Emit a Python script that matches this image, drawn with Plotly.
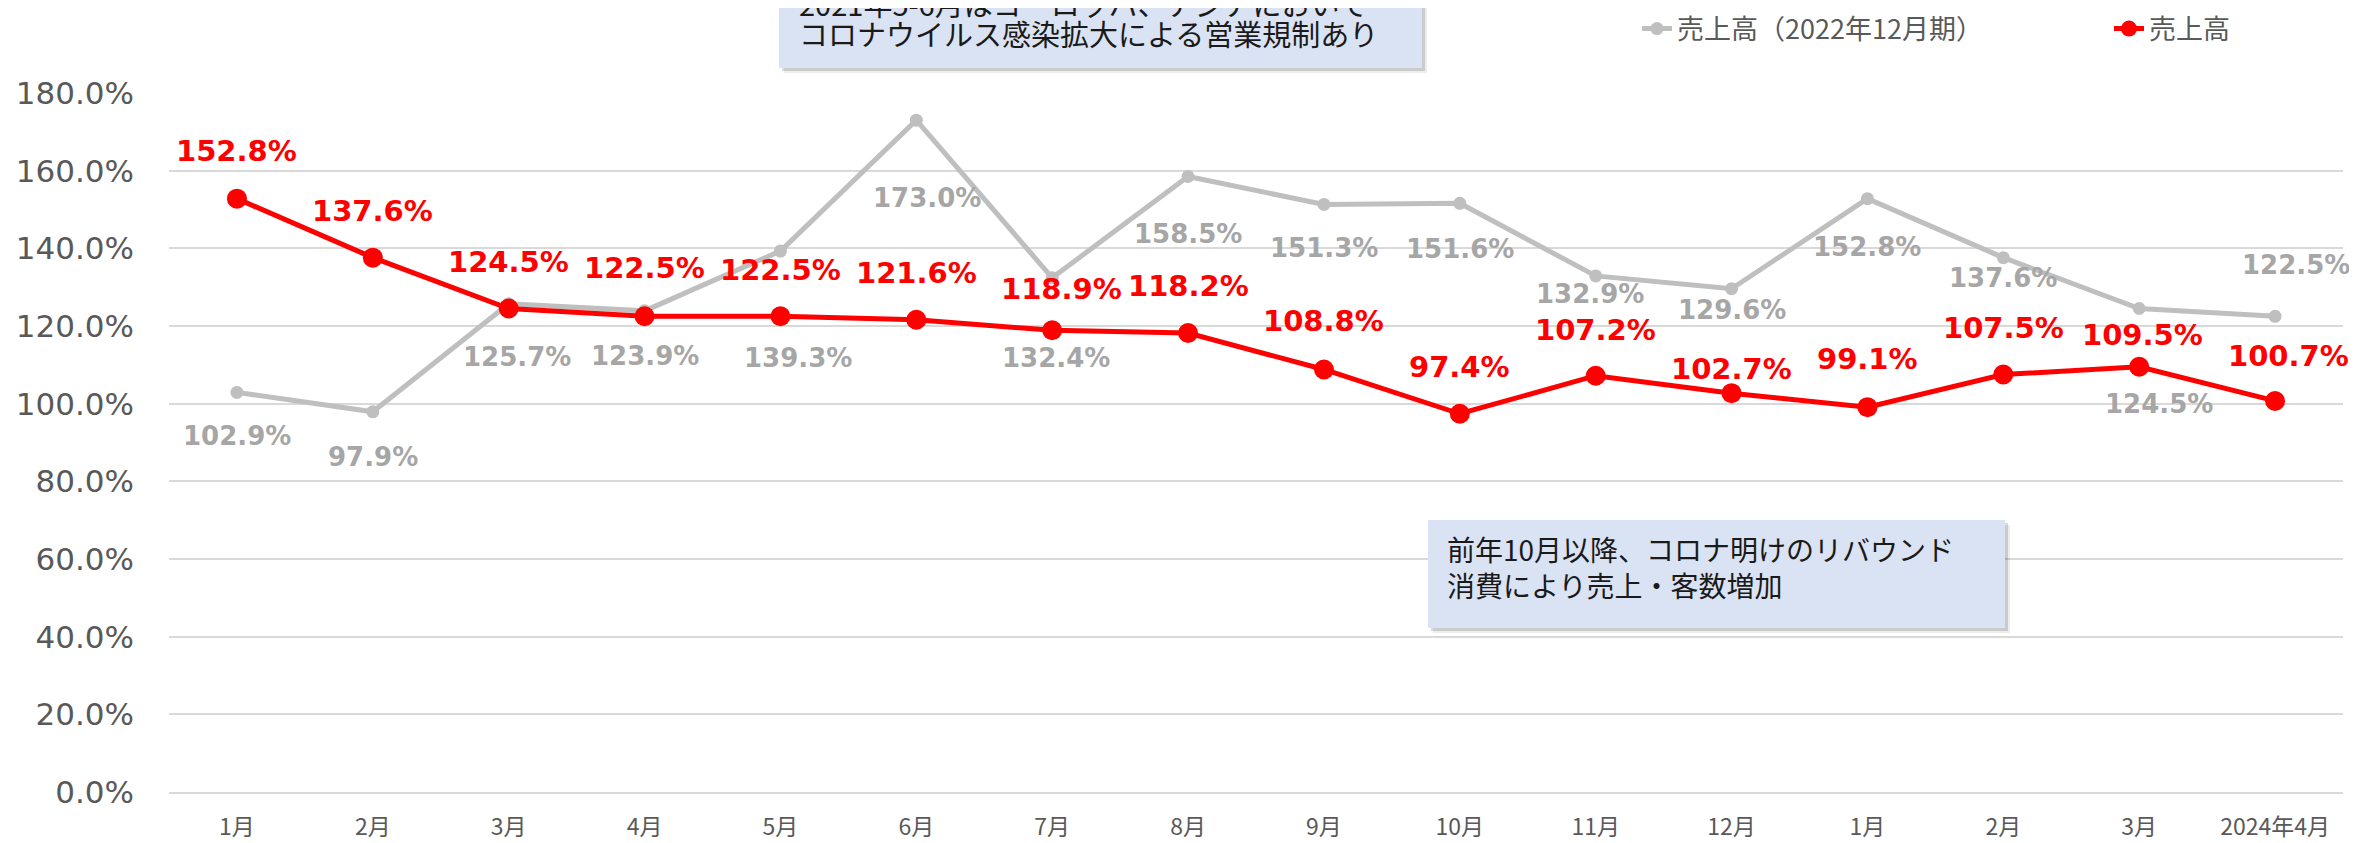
import plotly.graph_objects as go

# ---------------- data ----------------
months = ["1月", "2月", "3月", "4月", "5月", "6月", "7月", "8月", "9月", "10月",
          "11月", "12月", "1月", "2月", "3月", "2024年4月"]
sales = [152.8, 137.6, 124.5, 122.5, 122.5, 121.6, 118.9, 118.2, 108.8, 97.4,
         107.2, 102.7, 99.1, 107.5, 109.5, 100.7]
sales_2022 = [102.9, 97.9, 125.7, 123.9, 139.3, 173.0, 132.4, 158.5, 151.3, 151.6,
              132.9, 129.6, 152.8, 137.6, 124.5, 122.5]
y_ticks = [0, 20, 40, 60, 80, 100, 120, 140, 160, 180]
series_names = ["売上高（2022年12月期）", "売上高"]
note_top_lines = ["2021年5-6月はヨーロッパ、アジアにおいて", "コロナウイルス感染拡大による営業規制あり"]
note_bottom = "前年10月以降、コロナ明けのリバウンド<br>消費により売上・客数増加"

# ---------------- label placement (pixels, style only) ----------------
red_dy = [-48, -47, -47, -48, -46, -47, -41, -47, -48, -47, -46, -24, -48, -47, -32, -45]
red_dx = [0, 0, 0, 0, 0, 0, 9, 0, 0, 0, 0, 0, 0, 0, 3, 13]
gray_dy = [44, 45, 53, 45, 107, 78, 80, 58, 44, 46, 18, 21, 48, 20, 95, -51]
gray_dx = [0, 0, 8, 0, 18, 11, 4, 0, 0, 0, -6, 0, 0, 0, 20, 21]

# ---------------- layout geometry ----------------
# the page body has an 8px margin, so the figure is drawn 8px in from the corner
OFF = 8
W, H = 2357 - OFF, 843 - OFF
ML, MR, MT, MB = 169 - OFF, 14, 93 - OFF, 51
PW, PH = W - ML - MR, H - MT - MB


def px_x(px):
    """page pixel x -> paper coordinate"""
    return (px - OFF - ML) / PW


def px_y(py):
    """page pixel y -> paper coordinate"""
    return (H - MB - (py - OFF)) / PH


RED = "#FF0000"
GRAY = "#BFBFBF"
GRAY_TXT = "#A6A6A6"
AXIS_TXT = "#595959"
GRID = "#D9D9D9"
BOX = "#DAE3F3"
CJK = "Noto Sans CJK JP"

xs = list(range(len(months)))

fig = go.Figure()
fig.add_trace(go.Scatter(
    x=xs, y=sales_2022, mode="lines+markers", name=series_names[0],
    line=dict(color=GRAY, width=5), marker=dict(color=GRAY, size=13),
    legend="legend", cliponaxis=False,
))
fig.add_trace(go.Scatter(
    x=xs, y=sales, mode="lines+markers", name=series_names[1],
    line=dict(color=RED, width=5), marker=dict(color=RED, size=20),
    legend="legend2", cliponaxis=False,
))

annotations = []
for i, v in enumerate(sales_2022):
    annotations.append(dict(
        x=xs[i], y=v, xref="x", yref="y", text=f"{v:.1f}%", showarrow=False,
        xshift=gray_dx[i], yshift=-gray_dy[i],
        font=dict(family="DejaVu Sans", size=26, color=GRAY_TXT, weight="bold"),
    ))
for i, v in enumerate(sales):
    annotations.append(dict(
        x=xs[i], y=v, xref="x", yref="y", text=f"{v:.1f}%", showarrow=False,
        xshift=red_dx[i], yshift=-red_dy[i],
        font=dict(family="DejaVu Sans", size=29, color=RED, weight="bold"),
    ))

# note texts (top note: tighter line pitch, first line partly above the page)
for line_txt, cy in zip(note_top_lines, (3, 33)):
    annotations.append(dict(
        x=px_x(798), y=px_y(cy), xref="paper", yref="paper", xanchor="left", yanchor="middle",
        align="left", showarrow=False, text=line_txt, borderpad=0,
        font=dict(family=CJK, size=29, color="#1A1A1A"),
    ))
annotations.append(dict(
    x=px_x(1446), y=px_y(567), xref="paper", yref="paper", xanchor="left", yanchor="middle",
    align="left", showarrow=False, text=note_bottom, borderpad=0,
    font=dict(family=CJK, size=28, color="#1A1A1A"),
))

shapes = []


def box(x0, y0, x1, y1):
    out = []
    for off, col in ((5, "rgba(0,0,0,0.07)"), (3, "rgba(0,0,0,0.14)")):
        out.append(dict(type="rect", xref="paper", yref="paper",
                        x0=px_x(x0 + off), x1=px_x(x1 + off),
                        y0=px_y(y1 + off), y1=px_y(y0 + off),
                        fillcolor=col, line=dict(width=0), layer="above"))
    out.append(dict(type="rect", xref="paper", yref="paper",
                    x0=px_x(x0), x1=px_x(x1), y0=px_y(y1), y1=px_y(y0),
                    fillcolor=BOX, line=dict(width=0), layer="above"))
    return out


shapes += box(779, -45, 1422, 68)
shapes += box(1428, 520, 2005, 628)

fig.update_layout(
    width=W, height=H,
    margin=dict(l=ML, r=MR, t=MT, b=MB, pad=0, autoexpand=False),
    paper_bgcolor="white", plot_bgcolor="white",
    font=dict(family=CJK, color=AXIS_TXT),
    showlegend=True,
    legend=dict(orientation="h", x=px_x(1637), y=px_y(29), xanchor="left", yanchor="middle",
                font=dict(family=CJK, size=27, color=AXIS_TXT), bgcolor="rgba(0,0,0,0)"),
    legend2=dict(orientation="h", x=px_x(2109), y=px_y(29), xanchor="left", yanchor="middle",
                 font=dict(family=CJK, size=27, color=AXIS_TXT), bgcolor="rgba(0,0,0,0)"),
    annotations=annotations,
    shapes=shapes,
    xaxis=dict(
        range=[-0.5, len(months) - 0.5], tickmode="array", tickvals=xs, ticktext=months,
        showgrid=False, zeroline=False, showline=True, linecolor=GRID, linewidth=2,
        ticks="", ticklabelstandoff=13, automargin=False,
        tickfont=dict(family=CJK, size=23, color=AXIS_TXT),
    ),
    yaxis=dict(
        range=[0, 180], tickmode="array", tickvals=y_ticks,
        ticktext=[f"{t:.1f}%" for t in y_ticks],
        showgrid=True, gridcolor=GRID, gridwidth=2, zeroline=False, showline=False,
        ticks="", ticklabelstandoff=34, automargin=False,
        tickfont=dict(family="DejaVu Sans", size=31, color=AXIS_TXT),
    ),
)

fig.write_html("out.html")
